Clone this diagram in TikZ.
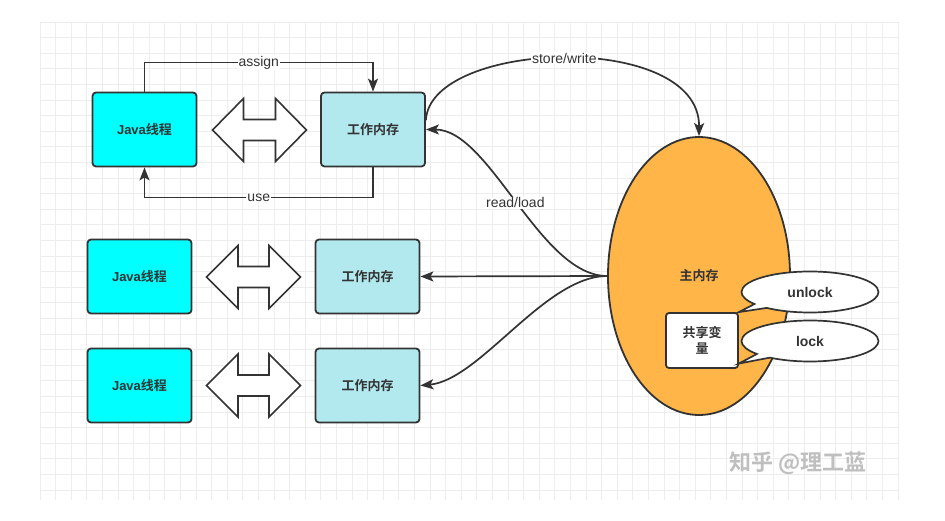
\documentclass[tikz,border=0pt]{standalone}
\usepackage{fontspec}
\setmainfont{Liberation Sans}
\newfontfamily\cjk{Noto Sans CJK SC}[BoldFont={Noto Sans CJK SC Bold}]
\usetikzlibrary{arrows.meta,shapes.geometric,shapes.callouts}

\definecolor{threadcyan}{HTML}{00FFFF}
\definecolor{memblue}{HTML}{B1E9EF}
\definecolor{mainorange}{HTML}{FFB547}
\definecolor{linegray}{HTML}{333333}
\definecolor{gridgray}{HTML}{EDEDED}

\tikzset{
  box/.style={draw=linegray, line width=1.8pt, rounded corners=3.5pt,
    minimum width=104pt, minimum height=74pt, text=linegray,
    font=\bfseries\fontsize{13}{15}\selectfont},
  thread/.style={box, fill=threadcyan},
  workmem/.style={box, fill=memblue},
  conn/.style={draw=linegray, line width=1.7pt, -{Stealth[length=13pt,width=10pt,inset=3pt]}},
  lbl/.style={fill=white, inner sep=1pt, text=linegray, font=\fontsize{14}{16}\selectfont},
  lockbubble/.style={ellipse callout, draw=linegray, line width=1.7pt, fill=white,
    minimum width=137pt, minimum height=41pt, text=linegray,
    font=\bfseries\fontsize{14}{16}\selectfont},
  gridline/.style={draw=gridgray, line width=0.8pt},
}

\begin{document}
\begin{tikzpicture}[x=1pt, y=-1pt]
  \useasboundingbox[fill=white] (0,0) rectangle (945,521);

  % grid
  \foreach \gx in {0,...,55}
    \draw[gridline] (40+\gx*15.6,22) -- (40+\gx*15.6,500);
  \foreach \gy in {0,...,30}
    \draw[gridline] (40,22+\gy*15.6) -- (898,22+\gy*15.6);

  % threads and working memory
  \node[thread] (jt1) at (144.5,129.5) {Java{\cjk 线程}};
  \node[workmem] (wm1) at (373,129.5) {\cjk 工作内存};
  \node[thread] (jt2) at (139.5,276.5) {Java{\cjk 线程}};
  \node[workmem] (wm2) at (367.5,276.5) {\cjk 工作内存};
  \node[thread] (jt3) at (139.5,385.5) {Java{\cjk 线程}};
  \node[workmem] (wm3) at (367.5,385.5) {\cjk 工作内存};

  % double arrows
  \foreach \cx/\cy/\sh in {259.5/130/16, 253.5/277/15.5, 253.5/385.5/15.5}
    \draw[draw=linegray, line width=1.6pt, fill=white]
      (\cx-47,\cy) -- (\cx-\sh,\cy-31.5) -- (\cx-\sh,\cy-10.5) -- (\cx+\sh,\cy-10.5)
      -- (\cx+\sh,\cy-31.5) -- (\cx+47,\cy) -- (\cx+\sh,\cy+31.5) -- (\cx+\sh,\cy+10.5)
      -- (\cx-\sh,\cy+10.5) -- (\cx-\sh,\cy+31.5) -- cycle;

  % assign / use
  \draw[conn] (jt1.north) -- ++(0,-29) -| node[lbl, pos=0.25] {assign} (wm1.north);
  \draw[conn] (wm1.south) -- ++(0,30) -| node[lbl, pos=0.25] {use} (jt1.south);

  % main memory
  \node[ellipse, draw=linegray, line width=1.8pt, fill=mainorange, inner sep=0pt,
    minimum width=182pt, minimum height=278pt, text=linegray,
    font=\cjk\bfseries\fontsize{13}{15}\selectfont] (mm) at (699,276) {主内存};
  \node[draw=linegray, line width=1.8pt, fill=white, rounded corners=3pt,
    minimum width=72pt, minimum height=55pt, align=center, text=linegray,
    font=\cjk\bfseries\fontsize{13}{16}\selectfont] (sv) at (702,340.5) {共享变\\量};
  \node[lockbubble, callout absolute pointer={(sv.north east)}] (unlock) at (810,292) {unlock};
  \node[lockbubble, callout absolute pointer={(sv.-32)}] (lock) at (810,341) {lock};

  % store / read
  \draw[conn] (wm1.10) .. controls (430,40) and (700,30) .. node[lbl, pos=0.5] {store/write} (mm.north);
  \draw[conn] (mm.west) .. controls (540,276) and (490,129.5) .. node[lbl, pos=0.5] {read/load} (wm1.east);
  \draw[conn] (mm.west) -- (wm2.east);
  \draw[conn] (mm.west) .. controls (545,276) and (480,380) .. (wm3.east);

  % watermark
  \node[text=gray!50, font=\cjk\bfseries\fontsize{22}{24}\selectfont] (wmark) at (798,463) {知乎 @理工蓝};
\end{tikzpicture}
\end{document}
